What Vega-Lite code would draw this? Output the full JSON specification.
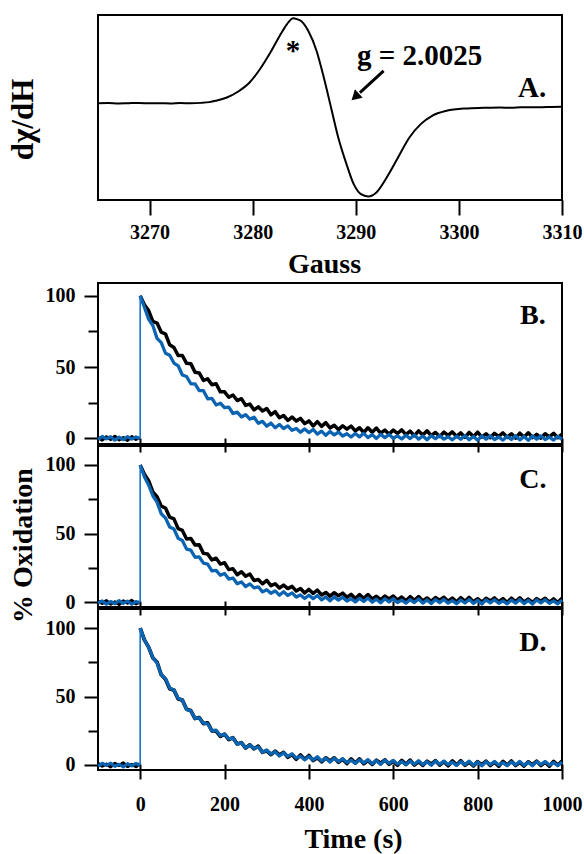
{
"$schema": "https://vega.github.io/schema/vega-lite/v6.json",
"background": "white",
"padding": {"left": 6, "top": 13, "right": 0, "bottom": 0},
"bounds": "flush",
"spacing": 83,
"config": {
  "font": "Liberation Serif",
  "view": {"stroke": "black", "strokeWidth": 2},
  "axis": {"labelFont": "Liberation Serif", "labelFontWeight": "bold", "labelFontSize": 20, "labelColor": "black",
           "titleFont": "Liberation Serif", "titleFontWeight": "bold", "titleFontSize": 28, "titleColor": "black",
           "tickColor": "black", "tickWidth": 2, "domain": false, "grid": false,
           "labelFlush": false, "labelOverlap": false, "labelBound": false}
},
"datasets": {
  "epr": [
    {"g":3265.0,"d":0.045},{"g":3266.0,"d":0.048},{"g":3267.0,"d":0.044},{"g":3268.0,"d":0.047},{"g":3269.0,"d":0.049},
    {"g":3270.0,"d":0.045},{"g":3271.0,"d":0.047},{"g":3272.0,"d":0.044},{"g":3273.0,"d":0.048},{"g":3274.0,"d":0.046},
    {"g":3275.0,"d":0.050},{"g":3275.8,"d":0.058},{"g":3276.4,"d":0.072},{"g":3277.5,"d":0.108},{"g":3278.6,"d":0.173},
    {"g":3279.7,"d":0.270},{"g":3280.7,"d":0.414},{"g":3281.8,"d":0.611},{"g":3282.9,"d":0.827},{"g":3283.5,"d":0.925},
    {"g":3283.9,"d":0.964},{"g":3284.3,"d":0.955},{"g":3284.7,"d":0.935},{"g":3285.4,"d":0.827},{"g":3286.2,"d":0.611},
    {"g":3286.9,"d":0.324},{"g":3287.6,"d":0.0},{"g":3288.3,"d":-0.324},{"g":3289.1,"d":-0.612},{"g":3289.8,"d":-0.828},
    {"g":3290.5,"d":-0.936},{"g":3291.2,"d":-0.961},{"g":3292.0,"d":-0.918},{"g":3293.0,"d":-0.756},{"g":3294.1,"d":-0.540},
    {"g":3295.2,"d":-0.324},{"g":3296.3,"d":-0.180},{"g":3297.4,"d":-0.090},{"g":3298.8,"d":-0.036},{"g":3300.6,"d":-0.011},
    {"g":3302.4,"d":-0.004},{"g":3304.0,"d":0.000},{"g":3305.0,"d":-0.003},{"g":3306.0,"d":0.002},{"g":3307.0,"d":0.004},
    {"g":3308.0,"d":0.003},{"g":3309.0,"d":0.006},{"g":3310.0,"d":0.007}
  ],
  "annA": [
    {"g":3283.9,"d":0.609,"label":"*"},
    {"g":3296.2,"d":0.557,"label":"g = 2.0025"},
    {"g":3307.1,"d":0.208,"label":"A."}
  ],
  "arrowA": [{"g":3292.7,"d":0.395,"g2":3290.4,"d2":0.16}],
  "headA": [{"g":3290.06,"d":0.127}],
  "letters": [
    {"p":"B","t":931,"v":86,"label":"B."},
    {"p":"C","t":931,"v":89,"label":"C."},
    {"p":"D","t":931,"v":89,"label":"D."}
  ],
  "jump": [
    {"p":"B","t":0,"v":0,"v2":100},
    {"p":"C","t":0,"v":0,"v2":100},
    {"p":"D","t":0,"v":0,"v2":100}
  ],
  "Bk": [
    {"t":-100,"v":0.6},{"t":-90,"v":-1.2},{"t":-80,"v":1.0},{"t":-70,"v":-0.8},{"t":-60,"v":1.4},{"t":-50,"v":-1.1},{"t":-40,"v":0.5},{"t":-30,"v":-1.5},{"t":-20,"v":1.2},{"t":-10,"v":-0.7},{"t":-1,"v":0.4},
    {"t":0,"v":100},{"t":10,"v":93.7},{"t":20,"v":89.6},{"t":30,"v":82.1},{"t":40,"v":80.9},{"t":50,"v":74.5},{"t":60,"v":73.2},{"t":70,"v":65.6},{"t":80,"v":63.7},{"t":90,"v":58.1},
    {"t":100,"v":58.1},{"t":110,"v":52.6},{"t":120,"v":52.4},{"t":130,"v":46.4},{"t":140,"v":45.9},{"t":150,"v":40.6},{"t":160,"v":41.7},{"t":170,"v":37.6},{"t":180,"v":38.3},{"t":190,"v":32.6},
    {"t":200,"v":32.6},{"t":210,"v":28.8},{"t":220,"v":30.4},{"t":230,"v":26.5},{"t":240,"v":27.8},{"t":250,"v":23.1},{"t":260,"v":24.0},{"t":270,"v":19.9},{"t":280,"v":22.1},{"t":290,"v":19.2},
    {"t":300,"v":20.9},{"t":310,"v":16.5},{"t":320,"v":18.7},{"t":330,"v":14.4},{"t":340,"v":16.0},{"t":350,"v":12.5},{"t":360,"v":14.9},{"t":370,"v":12.1},{"t":380,"v":14.0},{"t":390,"v":10.3},
    {"t":400,"v":12.2},{"t":410,"v":8.7},{"t":420,"v":11.7},{"t":430,"v":8.4},{"t":440,"v":11.0},{"t":450,"v":7.2},{"t":460,"v":9.2},{"t":470,"v":6.1},{"t":480,"v":8.8},{"t":490,"v":6.4},
    {"t":500,"v":8.6},{"t":510,"v":5.2},{"t":520,"v":7.4},{"t":530,"v":4.1},{"t":540,"v":7.4},{"t":550,"v":4.3},{"t":560,"v":7.2},{"t":570,"v":3.6},{"t":580,"v":5.8},{"t":590,"v":2.9},
    {"t":600,"v":5.8},{"t":610,"v":3.5},{"t":620,"v":5.9},{"t":630,"v":2.6},{"t":640,"v":5.0},{"t":650,"v":1.8},{"t":660,"v":5.2},{"t":670,"v":2.3},{"t":680,"v":5.3},{"t":690,"v":1.8},
    {"t":700,"v":4.1},{"t":710,"v":1.3},{"t":720,"v":4.3},{"t":730,"v":2.1},{"t":740,"v":4.5},{"t":750,"v":1.3},{"t":760,"v":3.8},{"t":770,"v":0.7},{"t":780,"v":4.1},{"t":790,"v":1.2},
    {"t":800,"v":4.3},{"t":810,"v":0.8},{"t":820,"v":3.2},{"t":830,"v":0.4},{"t":840,"v":3.5},{"t":850,"v":1.4},{"t":860,"v":3.8},{"t":870,"v":0.7},{"t":880,"v":3.2},{"t":890,"v":0.1},
    {"t":900,"v":3.6},{"t":910,"v":0.8},{"t":920,"v":3.9},{"t":930,"v":0.4},{"t":940,"v":2.8},{"t":950,"v":0.1},{"t":960,"v":3.2},{"t":970,"v":1.0},{"t":980,"v":3.5},{"t":990,"v":0.4},{"t":1000,"v":2.9}
  ],
  "Bb": [
    {"t":-100,"v":-0.9},{"t":-90,"v":1.3},{"t":-80,"v":-0.4},{"t":-70,"v":1.1},{"t":-60,"v":-1.3},{"t":-50,"v":0.8},{"t":-40,"v":-1.0},{"t":-30,"v":1.2},{"t":-20,"v":-0.6},{"t":-10,"v":1.0},{"t":-1,"v":-0.3},
    {"t":0,"v":100},{"t":10,"v":92.0},{"t":20,"v":83.6},{"t":30,"v":79.2},{"t":40,"v":70.1},{"t":50,"v":67.1},{"t":60,"v":59.7},{"t":70,"v":58.3},{"t":80,"v":52.8},{"t":90,"v":50.9},
    {"t":100,"v":44.4},{"t":110,"v":43.4},{"t":120,"v":38.3},{"t":130,"v":38.2},{"t":140,"v":33.5},{"t":150,"v":33.4},{"t":160,"v":27.7},{"t":170,"v":28.0},{"t":180,"v":23.4},{"t":190,"v":24.6},
    {"t":200,"v":21.5},{"t":210,"v":21.9},{"t":220,"v":17.4},{"t":230,"v":18.4},{"t":240,"v":15.0},{"t":250,"v":16.6},{"t":260,"v":13.5},{"t":270,"v":14.8},{"t":280,"v":10.5},{"t":290,"v":11.9},
    {"t":300,"v":8.5},{"t":310,"v":10.7},{"t":320,"v":7.4},{"t":330,"v":9.7},{"t":340,"v":6.9},{"t":350,"v":8.7},{"t":360,"v":5.6},{"t":370,"v":6.9},{"t":380,"v":4.3},{"t":390,"v":6.6},
    {"t":400,"v":4.0},{"t":410,"v":6.2},{"t":420,"v":3.0},{"t":430,"v":5.0},{"t":440,"v":2.1},{"t":450,"v":4.8},{"t":460,"v":2.4},{"t":470,"v":4.4},{"t":480,"v":1.6},{"t":490,"v":3.2},
    {"t":500,"v":0.9},{"t":510,"v":3.4},{"t":520,"v":1.0},{"t":530,"v":3.5},{"t":540,"v":0.5},{"t":550,"v":2.6},{"t":560,"v":-0.1},{"t":570,"v":2.8},{"t":580,"v":0.5},{"t":590,"v":2.7},
    {"t":600,"v":0.0},{"t":610,"v":1.7},{"t":620,"v":-0.5},{"t":630,"v":2.1},{"t":640,"v":-0.2},{"t":650,"v":2.3},{"t":660,"v":-0.6},{"t":670,"v":1.6},{"t":680,"v":-1.0},{"t":690,"v":1.9},
    {"t":700,"v":-0.3},{"t":710,"v":2.0},{"t":720,"v":-0.6},{"t":730,"v":1.1},{"t":740,"v":-1.1},{"t":750,"v":1.5},{"t":760,"v":-0.7},{"t":770,"v":1.9},{"t":780,"v":-1.0},{"t":790,"v":1.3},
    {"t":800,"v":-1.3},{"t":810,"v":1.6},{"t":820,"v":-0.6},{"t":830,"v":1.7},{"t":840,"v":-0.9},{"t":850,"v":0.9},{"t":860,"v":-1.3},{"t":870,"v":1.4},{"t":880,"v":-0.8},{"t":890,"v":1.8},
    {"t":900,"v":-1.1},{"t":910,"v":1.2},{"t":920,"v":-1.4},{"t":930,"v":1.6},{"t":940,"v":-0.6},{"t":950,"v":1.7},{"t":960,"v":-0.9},{"t":970,"v":0.9},{"t":980,"v":-1.3},{"t":990,"v":1.4},{"t":1000,"v":-0.8}
  ],
  "Ck": [
    {"t":-100,"v":0.9},{"t":-90,"v":-0.6},{"t":-80,"v":1.3},{"t":-70,"v":-1.2},{"t":-60,"v":0.4},{"t":-50,"v":-1.4},{"t":-40,"v":1.1},{"t":-30,"v":-0.5},{"t":-20,"v":1.5},{"t":-10,"v":-1.0},{"t":-1,"v":0.3},
    {"t":0,"v":100},{"t":10,"v":93.3},{"t":20,"v":88.6},{"t":30,"v":80.4},{"t":40,"v":77.0},{"t":50,"v":70.0},{"t":60,"v":68.7},{"t":70,"v":62.0},{"t":80,"v":60.8},{"t":90,"v":53.7},
    {"t":100,"v":52.4},{"t":110,"v":46.2},{"t":120,"v":46.6},{"t":130,"v":41.8},{"t":140,"v":41.9},{"t":150,"v":35.7},{"t":160,"v":35.2},{"t":170,"v":30.9},{"t":180,"v":32.2},{"t":190,"v":27.9},
    {"t":200,"v":28.9},{"t":210,"v":23.9},{"t":220,"v":24.6},{"t":230,"v":20.2},{"t":240,"v":22.3},{"t":250,"v":19.1},{"t":260,"v":20.7},{"t":270,"v":15.9},{"t":280,"v":16.7},{"t":290,"v":13.6},
    {"t":300,"v":16.0},{"t":310,"v":12.2},{"t":320,"v":13.6},{"t":330,"v":10.5},{"t":340,"v":12.6},{"t":350,"v":10.1},{"t":360,"v":11.7},{"t":370,"v":8.3},{"t":380,"v":10.1},{"t":390,"v":6.9},
    {"t":400,"v":9.5},{"t":410,"v":6.6},{"t":420,"v":9.0},{"t":430,"v":5.5},{"t":440,"v":7.3},{"t":450,"v":4.6},{"t":460,"v":7.1},{"t":470,"v":4.9},{"t":480,"v":6.8},{"t":490,"v":3.8},
    {"t":500,"v":5.9},{"t":510,"v":2.9},{"t":520,"v":5.8},{"t":530,"v":3.1},{"t":540,"v":5.8},{"t":550,"v":2.5},{"t":560,"v":4.5},{"t":570,"v":2.0},{"t":580,"v":4.7},{"t":590,"v":2.6},
    {"t":600,"v":4.7},{"t":610,"v":1.8},{"t":620,"v":4.0},{"t":630,"v":1.2},{"t":640,"v":4.2},{"t":650,"v":1.6},{"t":660,"v":4.3},{"t":670,"v":1.1},{"t":680,"v":3.3},{"t":690,"v":0.8},
    {"t":700,"v":3.6},{"t":710,"v":1.6},{"t":720,"v":3.8},{"t":730,"v":0.9},{"t":740,"v":3.2},{"t":750,"v":0.4},{"t":760,"v":3.5},{"t":770,"v":0.9},{"t":780,"v":3.7},{"t":790,"v":0.6},
    {"t":800,"v":2.7},{"t":810,"v":0.3},{"t":820,"v":3.1},{"t":830,"v":1.1},{"t":840,"v":3.3},{"t":850,"v":0.5},{"t":860,"v":2.8},{"t":870,"v":0.0},{"t":880,"v":3.1},{"t":890,"v":0.6},
    {"t":900,"v":3.4},{"t":910,"v":0.3},{"t":920,"v":2.5},{"t":930,"v":0.0},{"t":940,"v":2.8},{"t":950,"v":0.9},{"t":960,"v":3.1},{"t":970,"v":0.3},{"t":980,"v":2.6},{"t":990,"v":-0.1},{"t":1000,"v":3.0}
  ],
  "Cb": [
    {"t":-100,"v":-0.5},{"t":-90,"v":1.1},{"t":-80,"v":-1.2},{"t":-70,"v":0.7},{"t":-60,"v":-0.9},{"t":-50,"v":1.4},{"t":-40,"v":-0.6},{"t":-30,"v":1.0},{"t":-20,"v":-1.3},{"t":-10,"v":0.6},{"t":-1,"v":-0.2},
    {"t":0,"v":100},{"t":10,"v":91.4},{"t":20,"v":85.5},{"t":30,"v":77.6},{"t":40,"v":73.0},{"t":50,"v":64.4},{"t":60,"v":61.4},{"t":70,"v":54.9},{"t":80,"v":53.4},{"t":90,"v":46.7},
    {"t":100,"v":45.1},{"t":110,"v":38.8},{"t":120,"v":38.0},{"t":130,"v":32.9},{"t":140,"v":33.1},{"t":150,"v":28.6},{"t":160,"v":27.9},{"t":170,"v":22.9},{"t":180,"v":23.3},{"t":190,"v":19.8},
    {"t":200,"v":21.1},{"t":210,"v":17.0},{"t":220,"v":17.8},{"t":230,"v":13.6},{"t":240,"v":14.9},{"t":250,"v":11.6},{"t":260,"v":13.5},{"t":270,"v":10.6},{"t":280,"v":11.4},{"t":290,"v":7.7},
    {"t":300,"v":9.3},{"t":310,"v":6.7},{"t":320,"v":8.4},{"t":330,"v":5.3},{"t":340,"v":7.8},{"t":350,"v":5.1},{"t":360,"v":7.0},{"t":370,"v":4.0},{"t":380,"v":5.4},{"t":390,"v":2.9},
    {"t":400,"v":5.3},{"t":410,"v":2.8},{"t":420,"v":5.1},{"t":430,"v":1.9},{"t":440,"v":4.0},{"t":450,"v":1.2},{"t":460,"v":4.1},{"t":470,"v":1.7},{"t":480,"v":3.8},{"t":490,"v":1.0},
    {"t":500,"v":2.7},{"t":510,"v":0.4},{"t":520,"v":3.0},{"t":530,"v":0.7},{"t":540,"v":3.2},{"t":550,"v":0.2},{"t":560,"v":2.4},{"t":570,"v":-0.3},{"t":580,"v":2.7},{"t":590,"v":0.4},
    {"t":600,"v":2.7},{"t":610,"v":0.0},{"t":620,"v":1.7},{"t":630,"v":-0.5},{"t":640,"v":2.1},{"t":650,"v":-0.1},{"t":660,"v":2.5},{"t":670,"v":-0.5},{"t":680,"v":1.8},{"t":690,"v":-0.8},
    {"t":700,"v":2.1},{"t":710,"v":-0.1},{"t":720,"v":2.2},{"t":730,"v":-0.5},{"t":740,"v":1.3},{"t":750,"v":-0.9},{"t":760,"v":1.8},{"t":770,"v":-0.4},{"t":780,"v":2.2},{"t":790,"v":-0.7},
    {"t":800,"v":1.6},{"t":810,"v":-1.1},{"t":820,"v":1.9},{"t":830,"v":-0.3},{"t":840,"v":2.0},{"t":850,"v":-0.6},{"t":860,"v":1.2},{"t":870,"v":-1.0},{"t":880,"v":1.7},{"t":890,"v":-0.5},
    {"t":900,"v":2.1},{"t":910,"v":-0.8},{"t":920,"v":1.5},{"t":930,"v":-1.1},{"t":940,"v":1.9},{"t":950,"v":-0.3},{"t":960,"v":2.0},{"t":970,"v":-0.6},{"t":980,"v":1.2},{"t":990,"v":-1.0},{"t":1000,"v":1.7}
  ],
  "Dk": [
    {"t":-100,"v":1.1},{"t":-90,"v":-0.9},{"t":-80,"v":0.6},{"t":-70,"v":-1.4},{"t":-60,"v":1.2},{"t":-50,"v":-0.4},{"t":-40,"v":1.5},{"t":-30,"v":-1.1},{"t":-20,"v":0.3},{"t":-10,"v":-1.2},{"t":-1,"v":0.8},
    {"t":0,"v":100},{"t":10,"v":91.4},{"t":20,"v":86.1},{"t":30,"v":78.3},{"t":40,"v":75.1},{"t":50,"v":65.9},{"t":60,"v":62.6},{"t":70,"v":55.7},{"t":80,"v":54.7},{"t":90,"v":48.3},
    {"t":100,"v":47.4},{"t":110,"v":40.7},{"t":120,"v":39.7},{"t":130,"v":33.9},{"t":140,"v":34.6},{"t":150,"v":30.2},{"t":160,"v":30.7},{"t":170,"v":24.9},{"t":180,"v":24.8},{"t":190,"v":20.9},
    {"t":200,"v":22.5},{"t":210,"v":18.6},{"t":220,"v":19.9},{"t":230,"v":15.3},{"t":240,"v":16.3},{"t":250,"v":12.3},{"t":260,"v":14.7},{"t":270,"v":11.8},{"t":280,"v":13.7},{"t":290,"v":9.2},
    {"t":300,"v":10.3},{"t":310,"v":7.5},{"t":320,"v":10.0},{"t":330,"v":7.3},{"t":340,"v":9.2},{"t":350,"v":5.6},{"t":360,"v":7.7},{"t":370,"v":4.2},{"t":380,"v":7.3},{"t":390,"v":4.1},
    {"t":400,"v":6.9},{"t":410,"v":3.2},{"t":420,"v":5.3},{"t":430,"v":2.3},{"t":440,"v":5.2},{"t":450,"v":2.9},{"t":460,"v":5.2},{"t":470,"v":1.9},{"t":480,"v":4.2},{"t":490,"v":1.0},
    {"t":500,"v":4.4},{"t":510,"v":1.4},{"t":520,"v":4.4},{"t":530,"v":0.9},{"t":540,"v":3.2},{"t":550,"v":0.4},{"t":560,"v":3.4},{"t":570,"v":1.2},{"t":580,"v":3.7},{"t":590,"v":0.5},
    {"t":600,"v":2.9},{"t":610,"v":-0.2},{"t":620,"v":3.3},{"t":630,"v":0.4},{"t":640,"v":3.5},{"t":650,"v":0.0},{"t":660,"v":2.4},{"t":670,"v":-0.3},{"t":680,"v":2.7},{"t":690,"v":0.6},
    {"t":700,"v":3.1},{"t":710,"v":-0.1},{"t":720,"v":2.4},{"t":730,"v":-0.6},{"t":740,"v":2.9},{"t":750,"v":0.0},{"t":760,"v":3.1},{"t":770,"v":-0.3},{"t":780,"v":2.1},{"t":790,"v":-0.7},
    {"t":800,"v":2.4},{"t":810,"v":0.2},{"t":820,"v":2.7},{"t":830,"v":-0.4},{"t":840,"v":2.1},{"t":850,"v":-0.9},{"t":860,"v":2.6},{"t":870,"v":-0.2},{"t":880,"v":2.9},{"t":890,"v":-0.5},
    {"t":900,"v":1.9},{"t":910,"v":-0.8},{"t":920,"v":2.3},{"t":930,"v":0.2},{"t":940,"v":2.7},{"t":950,"v":-0.4},{"t":960,"v":2.1},{"t":970,"v":-0.9},{"t":980,"v":2.6},{"t":990,"v":-0.2},{"t":1000,"v":2.9}
  ],
  "Db": [
    {"t":-100,"v":-0.8},{"t":-90,"v":1.2},{"t":-80,"v":-0.3},{"t":-70,"v":1.3},{"t":-60,"v":-1.0},{"t":-50,"v":0.5},{"t":-40,"v":-1.4},{"t":-30,"v":0.9},{"t":-20,"v":-0.7},{"t":-10,"v":1.1},{"t":-1,"v":-0.4},
    {"t":0,"v":100},{"t":10,"v":91.5},{"t":20,"v":86.0},{"t":30,"v":78.6},{"t":40,"v":74.5},{"t":50,"v":66.0},{"t":60,"v":63.2},{"t":70,"v":56.3},{"t":80,"v":54.7},{"t":90,"v":48.7},
    {"t":100,"v":47.3},{"t":110,"v":40.5},{"t":120,"v":39.6},{"t":130,"v":34.1},{"t":140,"v":34.4},{"t":150,"v":30.5},{"t":160,"v":30.1},{"t":170,"v":25.0},{"t":180,"v":25.4},{"t":190,"v":21.5},
    {"t":200,"v":22.5},{"t":210,"v":19.0},{"t":220,"v":19.8},{"t":230,"v":15.1},{"t":240,"v":16.2},{"t":250,"v":12.5},{"t":260,"v":14.5},{"t":270,"v":12.1},{"t":280,"v":13.1},{"t":290,"v":9.3},
    {"t":300,"v":10.9},{"t":310,"v":8.0},{"t":320,"v":9.7},{"t":330,"v":6.5},{"t":340,"v":8.9},{"t":350,"v":6.2},{"t":360,"v":8.1},{"t":370,"v":5.0},{"t":380,"v":6.4},{"t":390,"v":3.8},
    {"t":400,"v":6.2},{"t":410,"v":3.7},{"t":420,"v":6.0},{"t":430,"v":2.8},{"t":440,"v":4.9},{"t":450,"v":2.1},{"t":460,"v":4.9},{"t":470,"v":2.5},{"t":480,"v":4.6},{"t":490,"v":1.8},
    {"t":500,"v":3.5},{"t":510,"v":1.1},{"t":520,"v":3.7},{"t":530,"v":1.4},{"t":540,"v":3.9},{"t":550,"v":0.9},{"t":560,"v":3.1},{"t":570,"v":0.4},{"t":580,"v":3.4},{"t":590,"v":1.1},
    {"t":600,"v":3.3},{"t":610,"v":0.6},{"t":620,"v":2.4},{"t":630,"v":0.1},{"t":640,"v":2.8},{"t":650,"v":0.5},{"t":660,"v":3.1},{"t":670,"v":0.2},{"t":680,"v":2.4},{"t":690,"v":-0.2},
    {"t":700,"v":2.8},{"t":710,"v":0.5},{"t":720,"v":2.8},{"t":730,"v":0.2},{"t":740,"v":2.0},{"t":750,"v":-0.3},{"t":760,"v":2.4},{"t":770,"v":0.2},{"t":780,"v":2.8},{"t":790,"v":-0.2},
    {"t":800,"v":2.1},{"t":810,"v":-0.6},{"t":820,"v":2.4},{"t":830,"v":0.2},{"t":840,"v":2.5},{"t":850,"v":-0.1},{"t":860,"v":1.7},{"t":870,"v":-0.5},{"t":880,"v":2.2},{"t":890,"v":0.0},
    {"t":900,"v":2.6},{"t":910,"v":-0.3},{"t":920,"v":2.0},{"t":930,"v":-0.6},{"t":940,"v":2.4},{"t":950,"v":0.2},{"t":960,"v":2.5},{"t":970,"v":-0.1},{"t":980,"v":1.7},{"t":990,"v":-0.5},{"t":1000,"v":2.2}
  ]
},
"vconcat": [
  {
    "width": 464, "height": 185,
    "layer": [
      {"data": {"name": "epr"},
       "mark": {"type": "line", "color": "black", "strokeWidth": 2, "interpolate": "monotone"},
       "encoding": {
         "x": {"field": "g", "type": "quantitative", "scale": {"domain": [3265, 3310], "nice": false, "zero": false},
               "axis": {"values": [3270, 3280, 3290, 3300, 3310], "format": "d", "tickSize": 15, "labelPadding": 7,
                        "title": "Gauss", "titleX": 226, "titleY": 72, "titleBaseline": "alphabetic"}},
         "y": {"field": "d", "type": "quantitative", "scale": {"domain": [-1, 1], "nice": false, "zero": false},
               "axis": {"title": "dχ/dH", "ticks": false, "labels": false, "titleX": -75, "titleY": 104,
                        "titleBaseline": "middle", "titleAlign": "center", "titleFontSize": 31}}
       }},
      {"data": {"name": "annA"},
       "mark": {"type": "text", "font": "Liberation Serif", "fontWeight": "bold", "fontSize": 29, "baseline": "middle", "align": "center", "color": "black"},
       "encoding": {"x": {"field": "g", "type": "quantitative"}, "y": {"field": "d", "type": "quantitative"}, "text": {"field": "label"}}},
      {"data": {"name": "arrowA"},
       "mark": {"type": "rule", "color": "black", "strokeWidth": 3},
       "encoding": {"x": {"field": "g", "type": "quantitative"}, "y": {"field": "d", "type": "quantitative"},
                    "x2": {"field": "g2"}, "y2": {"field": "d2"}}},
      {"data": {"name": "headA"},
       "mark": {"type": "point", "shape": "triangle", "filled": true, "color": "black", "size": 130, "angle": 227, "opacity": 1},
       "encoding": {"x": {"field": "g", "type": "quantitative"}, "y": {"field": "d", "type": "quantitative"}}}
    ]
  },
  {
    "bounds": "flush",
    "spacing": 2,
    "vconcat": [
      {
        "width": 464, "height": 161,
        "encoding": {
          "x": {"field": "t", "type": "quantitative", "scale": {"domain": [-100, 1000], "nice": false, "zero": false},
                "axis": {"values": [0, 200, 400, 600, 800, 1000], "labels": false, "title": null, "offset": -6, "tickSize": 14}},
          "y": {"field": "v", "type": "quantitative", "scale": {"domain": [-4, 109], "nice": false, "zero": false},
                "axis": {"values": [0, 25, 50, 75, 100], "labelExpr": "datum.value % 50 === 0 ? datum.label : ''",
                         "tickSize": {"condition": {"test": "datum.value % 50 === 0", "value": 14}, "value": 10},
                         "labelPadding": 9, "title": null}}
        },
        "layer": [
          {"data": {"name": "Bk"}, "transform": [{"filter": "datum.t < 0"}], "mark": {"type": "line", "color": "black", "strokeWidth": 3.2, "strokeJoin": "round"}},
          {"data": {"name": "Bk"}, "transform": [{"filter": "datum.t >= 0"}], "mark": {"type": "line", "color": "black", "strokeWidth": 3.5, "strokeJoin": "round"}},
          {"data": {"name": "Bb"}, "transform": [{"filter": "datum.t < 0"}], "mark": {"type": "line", "color": "#0b64b2", "strokeWidth": 3.2, "strokeJoin": "round"}},
          {"data": {"name": "Bb"}, "transform": [{"filter": "datum.t >= 0"}], "mark": {"type": "line", "color": "#0b64b2", "strokeWidth": 3.3, "strokeJoin": "round"}},
          {"data": {"name": "jump"}, "transform": [{"filter": "datum.p === 'B'"}], "mark": {"type": "rule", "color": "#1a72c4", "strokeWidth": 1.6},
           "encoding": {"y2": {"field": "v2"}}},
          {"data": {"name": "letters"}, "transform": [{"filter": "datum.p === 'B'"}],
           "mark": {"type": "text", "font": "Liberation Serif", "fontWeight": "bold", "fontSize": 28, "baseline": "middle", "align": "center", "color": "black"},
           "encoding": {"text": {"field": "label"}}}
        ]
      },
      {
        "width": 464, "height": 161,
        "encoding": {
          "x": {"field": "t", "type": "quantitative", "scale": {"domain": [-100, 1000], "nice": false, "zero": false},
                "axis": {"values": [0, 200, 400, 600, 800, 1000], "labels": false, "title": null, "offset": -6, "tickSize": 14}},
          "y": {"field": "v", "type": "quantitative", "scale": {"domain": [-3.3, 113.8], "nice": false, "zero": false},
                "axis": {"values": [0, 25, 50, 75, 100], "labelExpr": "datum.value % 50 === 0 ? datum.label : ''",
                         "tickSize": {"condition": {"test": "datum.value % 50 === 0", "value": 14}, "value": 10},
                         "labelPadding": 9, "title": "% Oxidation", "titleX": -75, "titleY": 99,
                         "titleBaseline": "middle", "titleAlign": "center"}}
        },
        "layer": [
          {"data": {"name": "Ck"}, "transform": [{"filter": "datum.t < 0"}], "mark": {"type": "line", "color": "black", "strokeWidth": 3.2, "strokeJoin": "round"}},
          {"data": {"name": "Ck"}, "transform": [{"filter": "datum.t >= 0"}], "mark": {"type": "line", "color": "black", "strokeWidth": 3.5, "strokeJoin": "round"}},
          {"data": {"name": "Cb"}, "transform": [{"filter": "datum.t < 0"}], "mark": {"type": "line", "color": "#0b64b2", "strokeWidth": 3.2, "strokeJoin": "round"}},
          {"data": {"name": "Cb"}, "transform": [{"filter": "datum.t >= 0"}], "mark": {"type": "line", "color": "#0b64b2", "strokeWidth": 3.3, "strokeJoin": "round"}},
          {"data": {"name": "jump"}, "transform": [{"filter": "datum.p === 'C'"}], "mark": {"type": "rule", "color": "#1a72c4", "strokeWidth": 1.6},
           "encoding": {"y2": {"field": "v2"}}},
          {"data": {"name": "letters"}, "transform": [{"filter": "datum.p === 'C'"}],
           "mark": {"type": "text", "font": "Liberation Serif", "fontWeight": "bold", "fontSize": 28, "baseline": "middle", "align": "center", "color": "black"},
           "encoding": {"text": {"field": "label"}}}
        ]
      },
      {
        "width": 464, "height": 161,
        "encoding": {
          "x": {"field": "t", "type": "quantitative", "scale": {"domain": [-100, 1000], "nice": false, "zero": false},
                "axis": {"values": [0, 200, 400, 600, 800, 1000], "format": "d", "offset": -6, "tickSize": 15, "labelPadding": 15,
                         "title": "Time (s)", "titleX": 255, "titleY": 83, "titleBaseline": "alphabetic"}},
          "y": {"field": "v", "type": "quantitative", "scale": {"domain": [-3.7, 114], "nice": false, "zero": false},
                "axis": {"values": [0, 25, 50, 75, 100], "labelExpr": "datum.value % 50 === 0 ? datum.label : ''",
                         "tickSize": {"condition": {"test": "datum.value % 50 === 0", "value": 14}, "value": 10},
                         "labelPadding": 9, "title": null}}
        },
        "layer": [
          {"data": {"name": "Dk"}, "transform": [{"filter": "datum.t < 0"}], "mark": {"type": "line", "color": "black", "strokeWidth": 3.2, "strokeJoin": "round"}},
          {"data": {"name": "Dk"}, "transform": [{"filter": "datum.t >= 0"}], "mark": {"type": "line", "color": "black", "strokeWidth": 3.7, "strokeJoin": "round"}},
          {"data": {"name": "Db"}, "transform": [{"filter": "datum.t < 0"}], "mark": {"type": "line", "color": "#0b64b2", "strokeWidth": 3.2, "strokeJoin": "round"}},
          {"data": {"name": "Db"}, "transform": [{"filter": "datum.t >= 0"}], "mark": {"type": "line", "color": "#0b64b2", "strokeWidth": 3.3, "strokeJoin": "round"}},
          {"data": {"name": "jump"}, "transform": [{"filter": "datum.p === 'D'"}], "mark": {"type": "rule", "color": "#1a72c4", "strokeWidth": 1.6},
           "encoding": {"y2": {"field": "v2"}}},
          {"data": {"name": "letters"}, "transform": [{"filter": "datum.p === 'D'"}],
           "mark": {"type": "text", "font": "Liberation Serif", "fontWeight": "bold", "fontSize": 28, "baseline": "middle", "align": "center", "color": "black"},
           "encoding": {"text": {"field": "label"}}}
        ]
      }
    ]
  }
]
}
